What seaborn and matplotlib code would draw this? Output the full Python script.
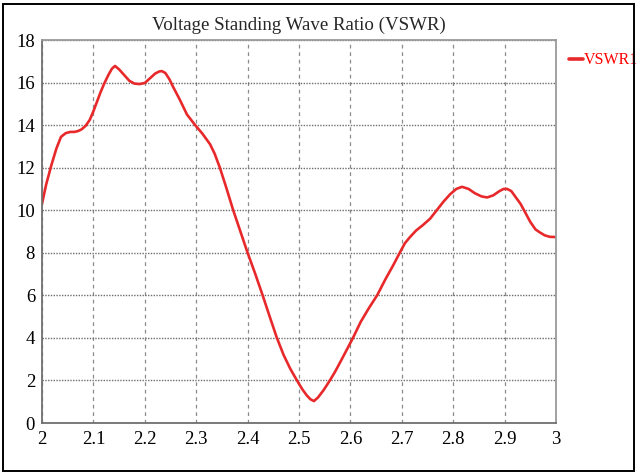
import matplotlib
matplotlib.use("Agg")
import matplotlib.pyplot as plt
import seaborn as sns
import pandas as pd
from matplotlib.patches import Rectangle

# Data
freq = [2.000, 2.008, 2.018, 2.028, 2.037, 2.046, 2.055, 2.063, 2.070, 2.077,
        2.085, 2.093, 2.100, 2.107, 2.114, 2.121, 2.129, 2.136, 2.142, 2.150, 2.160,
        2.170, 2.180, 2.190, 2.200, 2.210, 2.220, 2.228, 2.233, 2.240, 2.248,
        2.255, 2.268, 2.282, 2.298, 2.312, 2.327, 2.336, 2.346, 2.358, 2.372,
        2.386, 2.400, 2.415, 2.430, 2.443, 2.457, 2.470, 2.483, 2.496, 2.506,
        2.515, 2.522, 2.529, 2.537, 2.548, 2.560, 2.570, 2.580, 2.592, 2.605,
        2.620, 2.636, 2.652, 2.668, 2.683, 2.696, 2.706, 2.716, 2.728, 2.741,
        2.755, 2.768, 2.781, 2.794, 2.806, 2.817, 2.830, 2.842, 2.855, 2.866,
        2.878, 2.890, 2.898, 2.905, 2.913, 2.922, 2.931, 2.940, 2.950, 2.960,
        2.969, 2.978, 2.988, 2.998]
vswr = [10.3, 11.2, 12.1, 12.9, 13.45, 13.62, 13.68, 13.68, 13.72, 13.8,
        13.97, 14.25, 14.65, 15.1, 15.55, 15.95, 16.35, 16.65, 16.78, 16.62, 16.35,
        16.08, 15.95, 15.93, 15.98, 16.2, 16.42, 16.52, 16.54, 16.45, 16.15,
        15.8, 15.2, 14.5, 14.0, 13.6, 13.1, 12.65, 12.0, 11.1, 10.0,
        9.0, 8.0, 7.0, 5.95, 5.0, 4.0, 3.2, 2.55, 2.0, 1.6,
        1.3, 1.12, 1.03, 1.2, 1.55, 2.0, 2.4, 2.85, 3.4, 4.0,
        4.75, 5.4, 6.0, 6.75, 7.4, 8.0, 8.45, 8.74, 9.05, 9.3,
        9.6, 10.0, 10.4, 10.75, 11.0, 11.1, 11.0, 10.8, 10.65, 10.6,
        10.7, 10.9, 11.0, 11.0, 10.9, 10.6, 10.3, 9.9, 9.45, 9.1,
        8.95, 8.82, 8.75, 8.74]
x_ticks = [2, 2.1, 2.2, 2.3, 2.4, 2.5, 2.6, 2.7, 2.8, 2.9, 3]
x_tick_labels = ["2", "2.1", "2.2", "2.3", "2.4", "2.5", "2.6", "2.7", "2.8", "2.9", "3"]
y_ticks = [0, 2, 4, 6, 8, 10, 12, 14, 16, 18]
series_name = "VSWR1"
title = "Voltage Standing Wave Ratio (VSWR)"

df = pd.DataFrame({"freq": freq, "vswr": vswr, "series": series_name})

sns.set_style("white")
plt.rcParams["font.family"] = ["Liberation Serif", "DejaVu Serif"]

fig = plt.figure(figsize=(6.37, 4.75), dpi=100)
ax = fig.add_axes([42 / 637, 1 - 423 / 475, (556 - 42) / 637, (423 - 40) / 475])

sns.lineplot(data=df, x="freq", y="vswr", hue="series", palette=["#e8292b"],
             linewidth=1.9, ax=ax, sort=False, legend=True)

ax.set_xlim(2, 3)
ax.set_ylim(0, 18)
ax.set_xticks(x_ticks)
ax.set_xticklabels(x_tick_labels)
ax.set_yticks(y_ticks)
ax.set_xlabel("")
ax.set_ylabel("")

ax.xaxis.grid(True, linestyle=(0, (3, 3)), color="#8c8c8c", linewidth=0.9)
ax.yaxis.grid(True, linestyle=(0, (1, 1)), color="#6e6e6e", linewidth=1.0)
ax.set_axisbelow(True)

for side in ["top", "right"]:
    ax.spines[side].set_color("#9a9a9a")
    ax.spines[side].set_linewidth(1.3)
for side in ["left", "bottom"]:
    ax.spines[side].set_color("#707070")
    ax.spines[side].set_linewidth(1.3)
ax.spines["top"].set_visible(True)
ax.spines["right"].set_visible(True)

ax.tick_params(axis="both", which="major", direction="out", length=4, width=1.0,
               color="#707070", labelsize=13.5, labelcolor="black", pad=1)
ax.tick_params(axis="x", pad=2)

ax.set_title(title, fontsize=13.6, pad=7)

leg = ax.legend(loc="upper left", bbox_to_anchor=(1.012, 0.985), frameon=False,
                handlelength=0.9, handletextpad=0.05, borderaxespad=0.0,
                fontsize=11.5)
for txt in leg.get_texts():
    txt.set_color("#ff0000")
for line in leg.get_lines():
    line.set_linewidth(2.6)

fig.add_artist(Rectangle((3 / 637, 1 - 471 / 475), 631 / 637, 467 / 475,
                         transform=fig.transFigure, fill=False,
                         edgecolor="black", linewidth=1.4))

fig.savefig("out.png", dpi=100)
